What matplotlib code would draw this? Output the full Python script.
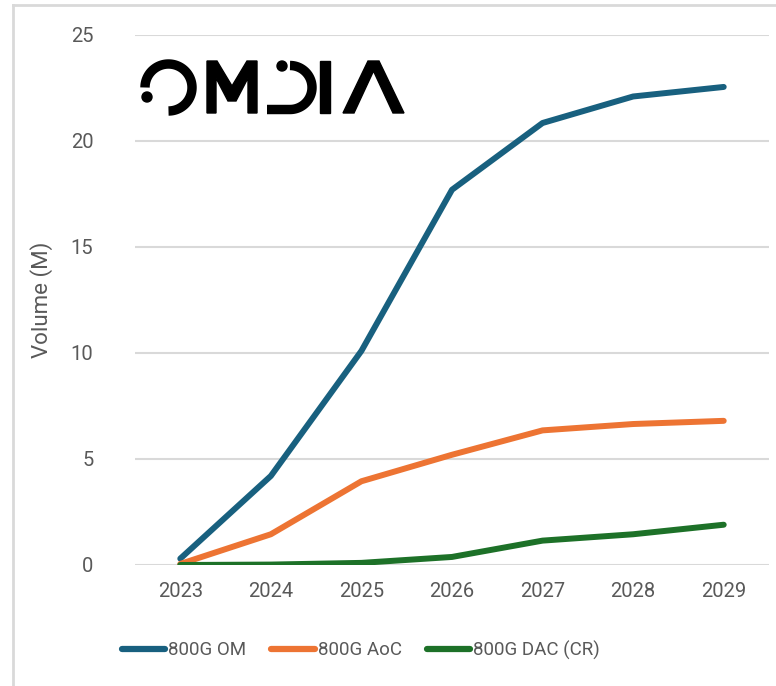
import numpy as np
import matplotlib
matplotlib.use("Agg")
import matplotlib.pyplot as plt
from matplotlib.patches import Circle, Polygon

# Forecast volumes, millions of units
years = ["2023", "2024", "2025", "2026", "2027", "2028", "2029"]
om_800g = [0.3, 4.2, 10.1, 17.7, 20.85, 22.1, 22.55]
aoc_800g = [0.05, 1.45, 3.95, 5.2, 6.35, 6.65, 6.8]
dac_800g = [0.0, 0.02, 0.1, 0.38, 1.15, 1.45, 1.9]

series_names = ["800G OM", "800G AoC", "800G DAC (CR)"]
series_colors = ["#18607f", "#ed7433", "#1d7128"]

W, H = 776, 686
TEXT_GRAY = "#595959"
GRID_GRAY = "#d9d9d9"
plt.rcParams["font.family"] = ["Roboto", "DejaVu Sans"]

fig = plt.figure(figsize=(W / 100, H / 100), dpi=100)
fig.patch.set_facecolor("white")

ax = fig.add_axes([135 / W, 121 / H, 634 / W, 530 / H])
x = np.arange(len(years))
for vals, name, color in zip([om_800g, aoc_800g, dac_800g], series_names, series_colors):
    ax.plot(x, vals, color=color, linewidth=4.3, solid_capstyle="round",
            solid_joinstyle="round", label=name, zorder=3)

ax.set_xlim(-0.5, len(years) - 0.5)
ax.set_ylim(0, 25)
ax.set_xticks(x)
ax.set_xticklabels(years)
ax.set_yticks(np.arange(0, 26, 5))
ax.tick_params(length=0, labelsize=14.5, labelcolor=TEXT_GRAY)
ax.tick_params(axis="x", pad=12)
ax.tick_params(axis="y", pad=30)
ax.grid(True, axis="y", color=GRID_GRAY, linewidth=1.5)
ax.set_axisbelow(True)
for s in ax.spines.values():
    s.set_visible(False)
ax.set_ylabel("Volume (M)", fontsize=16, color=TEXT_GRAY)
ax.yaxis.set_label_coords(-0.13, 0.5)

# legend sits left of centre, under the plot
leg = fig.legend(*ax.get_legend_handles_labels(), loc="center left",
                 bbox_to_anchor=(105 / W, 1 - 650 / H), ncol=3, frameon=False,
                 fontsize=13.5, handlelength=2.3, handletextpad=0.16,
                 columnspacing=1.35)
for line in leg.get_lines():
    line.set_linewidth(4.5)
for t in leg.get_texts():
    t.set_color(TEXT_GRAY)

# overlay in pixel coordinates for the frame and the logo
ov = fig.add_axes([0, 0, 1, 1], zorder=5)
ov.set_xlim(0, W)
ov.set_ylim(H, 0)
ov.axis("off")
ov.patch.set_alpha(0)

ov.plot([13, 13], [H, 5], color=GRID_GRAY, linewidth=2)
ov.plot([13, W], [5, 5], color=GRID_GRAY, linewidth=2)

# open O with a dot
t = np.radians(np.linspace(-90, 180, 100))
ov.plot(168.5 + 23.5 * np.cos(t), 87.5 - 23.5 * np.sin(t), color="black",
        linewidth=6.8, solid_capstyle="butt")
ov.add_patch(Circle((147, 97), 5, color="black"))
# M
ov.add_patch(Polygon([(207, 113), (207, 61), (217, 61), (232, 86), (247, 61),
                      (257, 61), (257, 113), (248, 113), (248, 78), (236, 101),
                      (228, 101), (216, 78), (216, 113)], closed=True, color="black"))
# reversed D with a dot
t = np.radians(np.linspace(90, -90, 80))
dx = 290 + 22 * np.cos(t)
dy = 87.5 - 22 * np.sin(t)
ov.plot(np.r_[dx, 267], np.r_[dy, 109.5], color="black",
        linewidth=6.8, solid_capstyle="butt")
ov.add_patch(Circle((282, 66), 5, color="black"))
# I
ov.add_patch(Polygon([(320, 61), (330, 61), (330, 113), (320, 113)], closed=True, color="black"))
# Lambda
ov.add_patch(Polygon([(343, 113), (368, 61), (379, 61), (404, 113), (393, 113),
                      (373.5, 71), (354, 113)], closed=True, color="black"))

fig.savefig("out.png", dpi=100, facecolor="white")
